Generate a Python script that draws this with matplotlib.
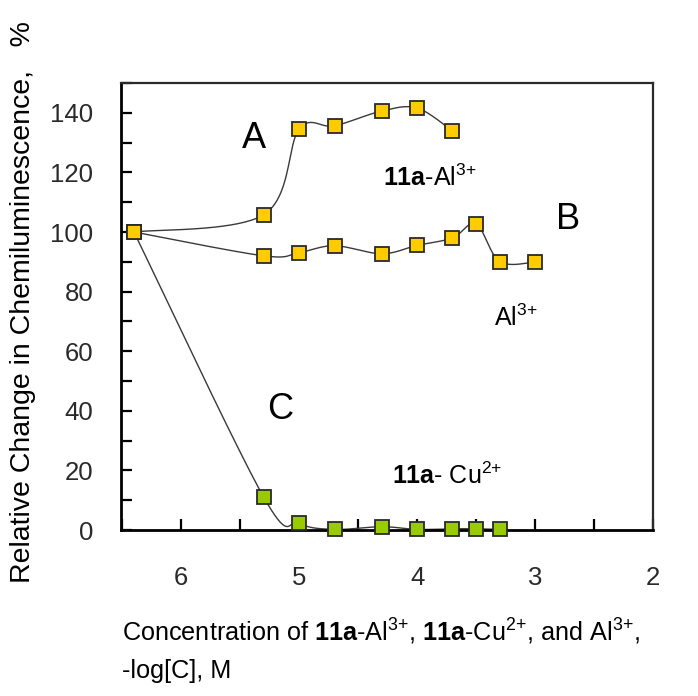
import numpy as np
import matplotlib
matplotlib.use("Agg")
import matplotlib.pyplot as plt
from matplotlib.ticker import MultipleLocator, FuncFormatter

plt.rcParams['font.family'] = ['Liberation Sans', 'DejaVu Sans']
plt.rcParams['mathtext.fontset'] = 'custom'
plt.rcParams['mathtext.rm'] = 'Liberation Sans'
plt.rcParams['mathtext.bf'] = 'Liberation Sans:bold'
plt.rcParams['mathtext.it'] = 'Liberation Sans:italic'

# Data (-log[C] vs relative change, %)
x_a = [6.4, 5.3, 5.0, 4.7, 4.3, 4.0, 3.7]
y_a = [100, 105.8, 134.5, 135.6, 140.6, 141.6, 133.9]
x_b = [6.4, 5.3, 5.0, 4.7, 4.3, 4.0, 3.7, 3.5, 3.3, 3.0]
y_b = [100, 92.0, 93.1, 95.4, 92.7, 95.5, 98.0, 102.7, 90.1, 89.9]
x_c = [6.4, 5.3, 5.0, 4.7, 4.3, 4.0, 3.7, 3.5, 3.3]
y_c = [100, 11.0, 2.2, 0.2, 1.1, 0.2, 0.4, 0.4, 0.2]

XLIM = (6.51, 2.0)
YLIM = (0, 150)

fig = plt.figure(figsize=(6.98, 6.96), dpi=100)
ax = fig.add_axes([121/698, 1-530/696, (653-121)/698, (530-83)/696])
ax.set_xlim(*XLIM)
ax.set_ylim(*YLIM)

W = 532.0
H = 447.0


def smooth(xs, ys, n=40):
    # Catmull-Rom (Excel-style smoothing) computed in display-proportional space
    sx = np.array([(x - XLIM[0]) / (XLIM[1] - XLIM[0]) * W for x in xs])
    sy = np.array([(y - YLIM[0]) / (YLIM[1] - YLIM[0]) * H for y in ys])
    P = np.column_stack([sx, sy])
    out = [P[0]]
    m = len(P)
    for i in range(m - 1):
        p0 = P[i - 1] if i > 0 else P[i]
        p1 = P[i]
        p2 = P[i + 1]
        p3 = P[i + 2] if i + 2 < m else P[i + 1]
        c1 = p1 + (p2 - p0) / 6.0
        c2 = p2 - (p3 - p1) / 6.0
        t = np.linspace(0, 1, n)[1:, None]
        seg = ((1 - t) ** 3) * p1 + 3 * ((1 - t) ** 2) * t * c1 + 3 * (1 - t) * t ** 2 * c2 + t ** 3 * p2
        out.extend(seg)
    out = np.array(out)
    X = XLIM[0] + out[:, 0] / W * (XLIM[1] - XLIM[0])
    Y = YLIM[0] + out[:, 1] / H * (YLIM[1] - YLIM[0])
    return X, Y


lc = '#3a3a3a'
yellow = '#FFCC00'
green = '#99CC00'
ms = 10.5
for xs, ys in [(x_c, y_c), (x_b, y_b), (x_a, y_a)]:
    X, Y = smooth(xs, ys)
    ax.plot(X, Y, color=lc, lw=1.0, zorder=2)

ax.plot(x_c[1:], y_c[1:], ls='none', marker='s', ms=ms, mfc=green, mec='#2a2a2a', mew=1.3, zorder=3, clip_on=False)
ax.plot(x_b, y_b, ls='none', marker='s', ms=ms, mfc=yellow, mec='#2a2a2a', mew=1.3, zorder=4, clip_on=False)
ax.plot(x_a, y_a, ls='none', marker='s', ms=ms, mfc=yellow, mec='#2a2a2a', mew=1.3, zorder=4, clip_on=False)

# spines
for s in ['left', 'bottom']:
    ax.spines[s].set_linewidth(2.0)
    ax.spines[s].set_color('black')
for s in ['top', 'right']:
    ax.spines[s].set_linewidth(1.6)
    ax.spines[s].set_color('#2a2a2a')

ax.xaxis.set_major_locator(MultipleLocator(0.5))
ax.yaxis.set_major_locator(MultipleLocator(10))
ax.xaxis.set_major_formatter(FuncFormatter(lambda v, p: f"{int(round(v))}" if abs(v - round(v)) < 1e-6 else ""))
ax.yaxis.set_major_formatter(FuncFormatter(lambda v, p: f"{int(round(v))}" if int(round(v)) % 20 == 0 else ""))
ax.tick_params(axis='both', direction='in', length=8, width=1.6, colors='black', labelsize=18.5,
               top=False, right=False)
ax.tick_params(axis='y', pad=20)
ax.tick_params(axis='x', pad=26)
for lab in ax.get_xticklabels() + ax.get_yticklabels():
    lab.set_color('#2a2a2a')

# annotations
fs_big = 26
fs_lab = 18
ax.text(5.38, 131.5, 'A', fontsize=fs_big, ha='center', va='center')
ax.text(2.72, 104.3, 'B', fontsize=fs_big, ha='center', va='center')
ax.text(5.16, 40.6, 'C', fontsize=fs_big, ha='center', va='center')
ax.text(4.29, 118.3, r'$\mathbf{11a}$-Al$^{3{+}}$', fontsize=fs_lab, ha='left', va='center')
ax.text(3.35, 71.1, r'Al$^{3{+}}$', fontsize=fs_lab, ha='left', va='center')
ax.text(4.21, 18.3, r'$\mathbf{11a}$- Cu$^{2{+}}$', fontsize=fs_lab, ha='left', va='center')

# axis titles
fig.text(122/698, 1 - 641/696,
         r'Concentration of $\mathbf{11a}$-Al$^{3{+}}$, $\mathbf{11a}$-Cu$^{2{+}}$, and Al$^{3{+}}$,',
         fontsize=18.2, ha='left', va='baseline')
fig.text(122/698, 1 - 678/696, '-log[C], M', fontsize=18.2, ha='left', va='baseline')
fig.text(23/698, 1 - 302/696, 'Relative Change in Chemiluminescence,   %', fontsize=20.5,
         rotation=90, ha='center', va='center')

fig.savefig('out.png', dpi=100)
